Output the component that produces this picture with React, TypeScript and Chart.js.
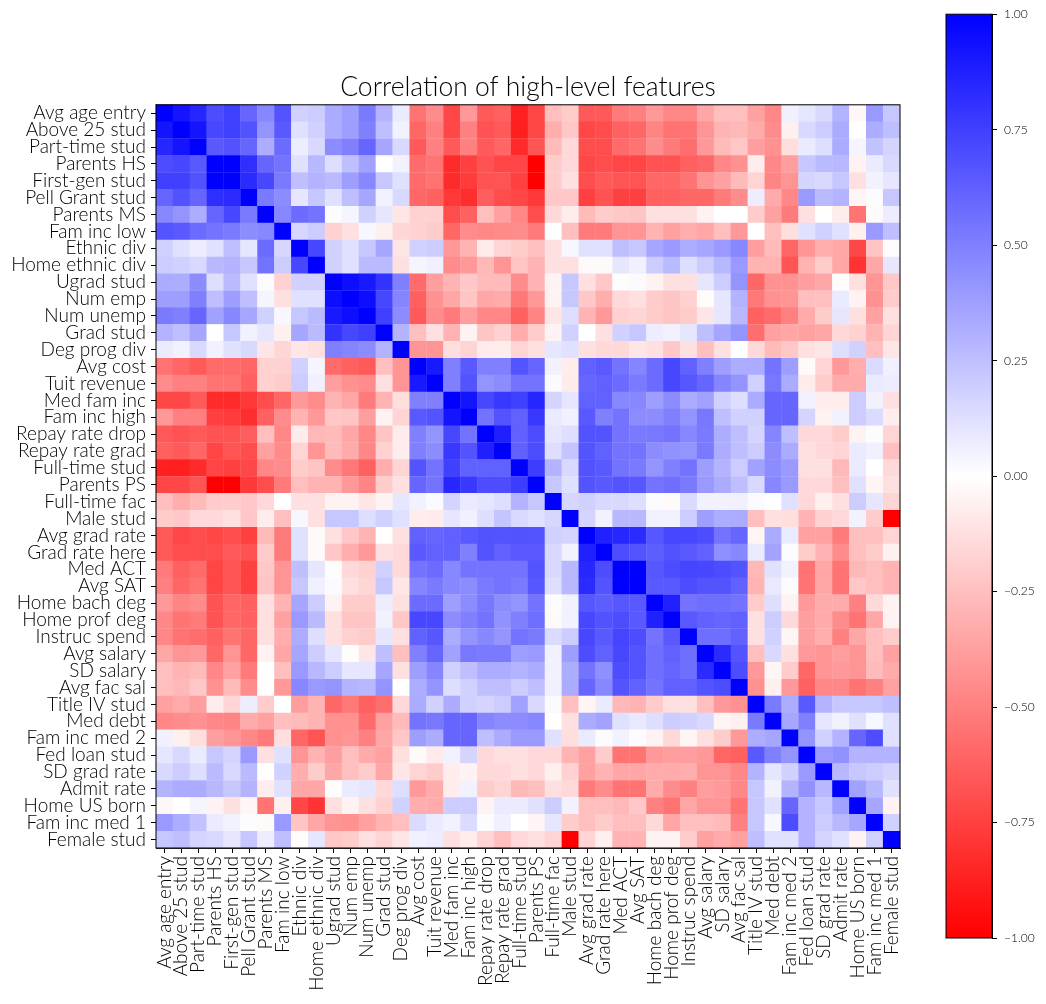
import React, { useEffect, useRef } from "react";
import { Chart, registerables } from "chart.js";

Chart.register(...registerables);

const features = ["Avg age entry","Above 25 stud","Part-time stud","Parents HS","First-gen stud","Pell Grant stud","Parents MS","Fam inc low","Ethnic div","Home ethnic div","Ugrad stud","Num emp","Num unemp","Grad stud","Deg prog div","Avg cost","Tuit revenue","Med fam inc","Fam inc high","Repay rate drop","Repay rate grad","Full-time stud","Parents PS","Full-time fac","Male stud","Avg grad rate","Grad rate here","Med ACT","Avg SAT","Home bach deg","Home prof deg","Instruc spend","Avg salary","SD salary","Avg fac sal","Title IV stud","Med debt","Fam inc med 2","Fed loan stud","SD grad rate","Admit rate","Home US born","Fam inc med 1","Female stud"];

// Upper triangle of the correlation matrix: row n holds columns n..43.
const row00 = [1,.92,.85,.70,.75,.6,.47,.67,.18,.2,.33,.38,.52,.3,.08,-.55,-.45,-.72,-.4,-.65,-.62,-.87,-.73,-.25,-.2,-.65,-.65,-.52,-.5,-.4,-.47,-.47,-.35,-.25,-.25,-.37,-.47,.06,.1,.15,.3,-.03,.4,.22];
const row01 = [1,.92,.72,.75,.68,.42,.65,.12,.18,.32,.38,.5,.25,.05,-.6,-.5,-.72,-.5,-.68,-.65,-.88,-.72,-.32,-.22,-.72,-.7,-.62,-.6,-.48,-.55,-.55,-.42,-.3,-.28,-.33,-.45,-.06,.15,.2,.33,0,.32,.25];
const row02 = [1,.65,.68,.6,.32,.58,.07,.15,.45,.5,.6,.35,.15,-.65,-.5,-.65,-.5,-.65,-.6,-.83,-.67,-.27,-.15,-.7,-.7,-.58,-.55,-.45,-.52,-.57,-.4,-.27,-.22,-.38,-.43,-.13,.08,.13,.33,.04,.24,.17];
const row03 = [1,1,.82,.6,.55,.12,.28,.13,.25,.37,0,.05,-.58,-.55,-.83,-.75,-.68,-.73,-.73,-1,-.2,-.15,-.72,-.7,-.73,-.73,-.68,-.68,-.62,-.6,-.47,-.43,-.07,-.47,-.38,.22,.27,.28,-.05,.08,.15];
const row04 = [1,.83,.72,.52,.25,.3,.27,.38,.47,.22,.12,-.58,-.55,-.83,-.77,-.68,-.67,-.75,-1,-.2,-.12,-.7,-.65,-.67,-.67,-.6,-.6,-.55,-.42,-.37,-.27,-.17,-.48,-.42,.17,.15,.22,-.12,.05,.1];
const row05 = [1,.52,.45,.1,.22,.12,.25,.35,.05,.15,-.6,-.62,-.78,-.82,-.63,-.7,-.72,-.78,-.22,-.22,-.75,-.68,-.75,-.75,-.62,-.62,-.6,-.6,-.52,-.45,.07,-.33,-.47,.4,.27,.3,-.04,.01,.22];
const row06 = [1,.47,.58,.55,.01,.04,.18,.1,-.1,-.18,-.18,-.7,-.62,-.25,-.37,-.47,-.7,-.15,-.07,-.27,-.2,-.22,-.23,-.12,-.12,-.12,-.05,0,0,-.2,-.37,-.52,-.12,0,-.07,-.55,-.02,.07];
const row07 = [1,.16,.2,-.18,-.12,.03,-.06,-.16,-.18,-.2,-.6,-.45,-.47,-.46,-.45,-.52,0,-.25,-.52,-.52,-.42,-.42,-.3,-.37,-.32,-.35,-.25,-.4,0,-.25,-.13,.12,.18,.12,-.06,.4,.25];
const row08 = [1,.72,.18,.12,.22,.35,-.1,.18,.2,-.4,-.3,-.08,-.17,-.2,-.25,-.12,.03,.12,.12,.25,.22,.35,.4,.32,.35,.4,.47,-.38,-.27,-.6,-.42,-.32,-.35,-.72,-.23,-.01];
const row09 = [1,.18,.12,.27,.27,-.12,.04,.06,-.45,-.4,-.28,-.42,-.23,-.3,-.12,-.12,-.02,-.02,.1,.06,.2,.27,.13,.2,.28,.4,-.3,-.3,-.67,-.3,-.2,-.35,-.8,-.35,.1];
const row10 = [1,.95,.9,.8,.5,-.58,-.38,-.3,-.22,-.27,-.27,-.45,-.3,-.05,.22,-.12,-.22,-.01,.02,-.05,-.12,-.12,.1,.2,.42,-.6,-.43,-.43,-.38,-.35,-.01,-.12,-.42,-.22];
const row11 = [1,.95,.72,.48,-.62,-.43,-.35,-.23,-.35,-.33,-.53,-.4,-.05,.22,-.22,-.32,-.15,-.12,-.2,-.23,-.18,-.01,.1,.3,-.53,-.43,-.42,-.25,-.25,.08,-.05,-.43,-.2];
const row12 = [1,.75,.45,-.65,-.45,-.52,-.38,-.47,-.47,-.62,-.48,-.1,.13,-.3,-.4,-.18,-.16,-.2,-.23,-.2,-.1,.1,.28,-.62,-.58,-.5,-.33,-.2,.1,-.12,-.37,-.12];
const row13 = [1,.3,-.25,-.12,-.3,-.05,-.23,-.18,-.32,-.2,-.05,.18,0,-.12,.18,.22,.07,.05,.1,.25,.35,.42,-.57,-.37,-.35,-.37,-.35,-.15,-.18,-.3,-.17];
const row14 = [1,-.42,-.42,-.13,-.17,-.08,-.07,-.17,-.12,.1,.12,-.12,-.15,-.15,-.1,-.12,-.22,-.12,-.25,-.12,0,-.15,-.27,-.22,-.12,-.1,.13,.18,-.25,-.1];
const row15 = [1,.9,.5,.65,.5,.5,.67,.6,.05,-.07,.62,.65,.55,.48,.58,.72,.62,.5,.38,.32,.33,.55,.38,-.02,-.17,-.4,-.32,.14,.06];
const row16 = [1,.5,.67,.42,.45,.55,.55,.02,-.08,.6,.62,.58,.52,.58,.72,.66,.6,.48,.42,.18,.53,.33,-.08,-.2,-.33,-.33,.08,.07];
const row17 = [1,.92,.72,.78,.75,.85,.17,.1,.62,.62,.47,.47,.38,.45,.33,.37,.18,.13,.33,.6,.6,.05,-.07,-.07,.2,.05,-.12];
const row18 = [1,.55,.67,.62,.78,.08,.06,.65,.5,.55,.45,.45,.5,.42,.53,.25,.18,.18,.6,.6,.17,-.05,.05,.2,.14,-.07];
const row19 = [1,.88,.62,.7,.1,.13,.68,.67,.55,.52,.53,.55,.47,.52,.32,.25,.17,.48,.25,-.15,-.15,-.2,-.05,.01,-.17];
const row20 = [1,.62,.7,.13,.23,.67,.62,.55,.55,.45,.43,.42,.52,.32,.25,.2,.45,.33,-.12,-.15,-.17,.08,.06,-.25];
const row21 = [1,.76,.3,.15,.68,.65,.55,.52,.42,.5,.55,.38,.3,.2,.37,.45,.4,-.12,-.12,-.28,.08,0,-.15];
const row22 = [1,.22,.12,.67,.65,.67,.66,.55,.57,.52,.4,.33,.25,.15,.47,.4,-.15,-.15,-.25,.12,-.04,-.12];
const row23 = [1,.16,.18,.15,.15,.13,.01,-.02,.14,.05,.05,.06,.02,0,.12,-.15,-.06,-.12,.2,.1,-.17];
const row24 = [1,.17,.05,.28,.28,.05,.05,.2,.38,.32,.33,-.25,-.12,-.13,-.3,-.18,-.15,.05,-.2,-1];
const row25 = [1,.87,.85,.83,.66,.72,.72,.7,.55,.6,-.04,.33,.08,-.37,-.37,-.52,-.25,-.25,-.17];
const row26 = [1,.7,.67,.63,.68,.65,.62,.44,.47,.08,.36,.01,-.2,-.3,-.45,-.25,-.2,-.06];
const row27 = [1,1,.66,.7,.73,.72,.7,.67,-.28,.12,.05,-.55,-.35,-.55,-.28,-.25,-.3];
const row28 = [1,.65,.65,.7,.67,.67,.62,-.3,.09,.01,-.55,-.35,-.55,-.22,-.25,-.3];
const row29 = [1,.87,.55,.57,.57,.55,-.2,.13,-.05,-.4,-.33,-.33,-.5,-.15,-.05];
const row30 = [1,.65,.62,.6,.62,-.12,.2,-.15,-.38,-.33,-.45,-.55,-.35,-.05];
const row31 = [1,.57,.57,.62,-.12,.18,-.04,-.38,-.32,-.5,-.35,-.25,-.2];
const row32 = [1,.83,.67,-.25,.15,-.12,-.4,-.42,-.38,-.42,-.25,-.37];
const row33 = [1,.7,-.4,-.04,-.2,-.6,-.42,-.4,-.42,-.27,-.33];
const row34 = [1,-.43,-.06,-.4,-.62,-.47,-.47,-.55,-.5,-.37];
const row35 = [1,.52,.32,.65,.3,.22,.22,.22,.25];
const row36 = [1,.35,.5,.1,.05,.12,.03,.12];
const row37 = [1,.42,.18,.3,.6,.7,.12];
const row38 = [1,.4,.43,.3,.3,.3];
const row39 = [1,.28,.22,.2,.17];
const row40 = [1,.37,.28,.12];
const row41 = [1,.35,-.05];
const row42 = [1,.18];
const row43 = [1];

const upperRows = [row00,row01,row02,row03,row04,row05,row06,row07,row08,row09,row10,row11,row12,row13,row14,row15,row16,row17,row18,row19,row20,row21,row22,row23,row24,row25,row26,row27,row28,row29,row30,row31,row32,row33,row34,row35,row36,row37,row38,row39,row40,row41,row42,row43];

const colorbarRange = [-1, 1];
const colorbarTicks = [-1, -0.75, -0.5, -0.25, 0, 0.25, 0.5, 0.75, 1];

const FONT = "Lato";
const WEIGHT = "300";

function bwr(v: number): string {
  if (v >= 0) {
    const c = Math.round(255 * (1 - v));
    return `rgb(${c},${c},255)`;
  }
  const c = Math.round(255 * (1 + v));
  return `rgb(255,${c},${c})`;
}

function cellPoints() {
  const pts: { x: string; y: string; v: number }[] = [];
  upperRows.forEach((vals, r) => {
    vals.forEach((v, k) => {
      const c = r + k;
      pts.push({ x: features[c], y: features[r], v });
      if (c !== r) pts.push({ x: features[r], y: features[c], v });
    });
  });
  return pts;
}

const framePlugin = {
  id: "frame",
  afterDraw(chart: any) {
    const { ctx, chartArea: a } = chart;
    ctx.save();
    ctx.strokeStyle = "#000";
    ctx.lineWidth = 1;
    ctx.strokeRect(a.left, a.top, a.right - a.left, a.bottom - a.top);
    ctx.restore();
  },
};

export default function App() {
  const mainRef = useRef<HTMLCanvasElement>(null);
  const barRef = useRef<HTMLCanvasElement>(null);

  useEffect(() => {
    const main = new Chart(mainRef.current!, {
      type: "scatter",
      data: {
        datasets: [
          {
            data: cellPoints() as any,
            pointStyle: "rect",
            borderWidth: 0,
            pointRadius: (ctx: any) => {
              const a = ctx.chart.chartArea;
              return a ? (((a.right - a.left) / features.length) / 2) * Math.SQRT2 + 0.25 : 12;
            },
            backgroundColor: (ctx: any) => bwr(ctx.raw ? ctx.raw.v : 0),
          } as any,
        ],
      },
      plugins: [framePlugin],
      options: {
        responsive: false,
        animation: false,
        layout: { padding: { left: 0, right: 146, top: 0, bottom: 0 } },
        plugins: {
          legend: { display: false },
          tooltip: { enabled: false },
          title: {
            display: true,
            fullSize: false,
            text: "Correlation of high-level features",
            color: "#000",
            font: { family: FONT, size: 26.5, weight: WEIGHT as any, lineHeight: 1.2 },
            padding: { top: 72, bottom: 1 },
          },
        },
        scales: {
          x: {
            type: "category",
            labels: features,
            offset: true,
            grid: { offset: false, drawOnChartArea: false, drawTicks: true, tickLength: 5, color: "#000" },
            border: { color: "#000" },
            ticks: { autoSkip: false, maxRotation: 90, minRotation: 90, padding: 3, color: "#000", font: { family: FONT, size: 19, weight: WEIGHT as any } },
            afterFit: (s: any) => { s.height = 156; },
          },
          y: {
            type: "category",
            labels: features,
            offset: true,
            grid: { offset: false, drawOnChartArea: false, drawTicks: true, tickLength: 5, color: "#000" },
            border: { color: "#000" },
            ticks: { autoSkip: false, padding: 5, color: "#000", font: { family: FONT, size: 19, weight: WEIGHT as any } },
            afterFit: (s: any) => { s.width = 156; },
          },
        },
      },
    } as any);

    const bar = new Chart(barRef.current!, {
      type: "bar",
      data: {
        labels: ["value"],
        datasets: [
          {
            data: [colorbarRange] as any,
            barPercentage: 1,
            categoryPercentage: 1,
            borderWidth: 0,
            backgroundColor: (ctx: any) => {
              const a = ctx.chart.chartArea;
              if (!a) return "#fff";
              const g = ctx.chart.ctx.createLinearGradient(0, a.top, 0, a.bottom);
              g.addColorStop(0, bwr(1));
              g.addColorStop(0.5, bwr(0));
              g.addColorStop(1, bwr(-1));
              return g;
            },
          } as any,
        ],
      },
      plugins: [framePlugin],
      options: {
        responsive: false,
        animation: false,
        layout: { padding: { left: 946, right: 0, top: 14, bottom: 66 } },
        plugins: { legend: { display: false }, tooltip: { enabled: false } },
        scales: {
          x: { display: false },
          y: {
            position: "right",
            min: -1,
            max: 1,
            afterBuildTicks: (s: any) => { s.ticks = colorbarTicks.map((value) => ({ value })); },
            grid: { drawOnChartArea: false, drawTicks: true, tickLength: 5, color: "#000" },
            border: { color: "#000" },
            ticks: { padding: 7, color: "#000", font: { family: FONT, size: 12, weight: WEIGHT as any }, callback: (v: any) => Number(v).toFixed(2).replace("-", "\u2212") },
            afterFit: (s: any) => { s.width = 54; },
          },
        },
      },
    } as any);

    return () => {
      main.destroy();
      bar.destroy();
    };
  }, []);

  const style: React.CSSProperties = { position: "absolute", left: 0, top: 0 };
  return (
    <div style={{ position: "absolute", left: 0, top: 0, width: 1046, height: 1004, background: "#fff", overflow: "hidden" }}>
      <canvas ref={mainRef} width={1046} height={1004} style={style} />
      <canvas ref={barRef} width={1046} height={1004} style={style} />
    </div>
  );
}
